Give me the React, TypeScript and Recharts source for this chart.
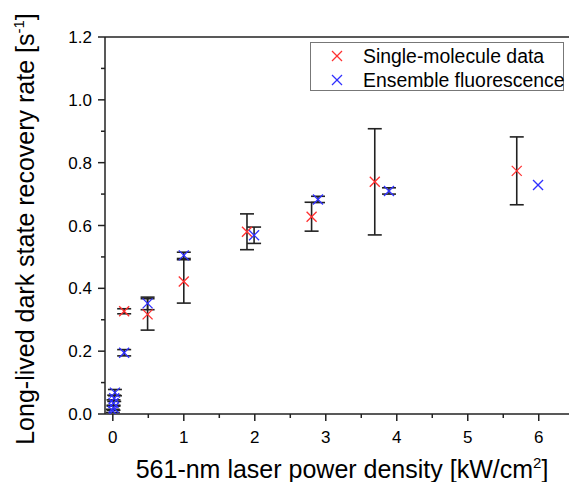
import {
  ScatterChart,
  Scatter,
  XAxis,
  YAxis,
  ErrorBar,
  ReferenceLine,
  Legend,
} from "recharts";

// single-molecule data (red)
const smX = [0.16, 0.49, 1.0, 1.89, 2.8, 3.69, 5.69];
const smY = [0.327, 0.317, 0.422, 0.58, 0.628, 0.739, 0.774];
const smErr = [0.008, 0.05, 0.069, 0.057, 0.046, 0.169, 0.108];

// ensemble fluorescence (blue)
const efX = [0.0, 0.01, 0.01, 0.02, 0.03, 0.16, 0.49, 1.0, 1.99, 2.89, 3.89, 5.99];
const efY = [0.01, 0.02, 0.035, 0.05, 0.068, 0.195, 0.352, 0.505, 0.569, 0.683, 0.71, 0.729];
const efErr = [0.005, 0.008, 0.01, 0.01, 0.01, 0.01, 0.02, 0.01, 0.026, 0.01, 0.01, 0];

const xTicks = [0, 0.5, 1, 1.5, 2, 2.5, 3, 3.5, 4, 4.5, 5, 5.5, 6];
const yTicks = [0, 0.1, 0.2, 0.3, 0.4, 0.5, 0.6, 0.7, 0.8, 0.9, 1.0, 1.1, 1.2];

const smData = smX.map((x, i) => ({ x, y: smY[i], err: smErr[i] }));
const efData = efX.map((x, i) => ({ x, y: efY[i], err: efErr[i] }));

const RED = "#ff3030";
const BLUE = "#3030ff";
const FONT = "'Liberation Sans', Arial, sans-serif";

const cross = (color: string) => (props: any) => {
  const { cx, cy } = props;
  const s = 5;
  return (
    <g stroke={color} strokeWidth={1.3}>
      <line x1={cx - s} y1={cy - s} x2={cx + s} y2={cy + s} />
      <line x1={cx - s} y1={cy + s} x2={cx + s} y2={cy - s} />
    </g>
  );
};

const XTick = (props: any) => {
  const { x, y, payload } = props;
  const major = Number.isInteger(payload.value);
  return (
    <g>
      <line x1={x} y1={y} x2={x} y2={y + (major ? 7 : 4)} stroke="#222" strokeWidth={1.5} />
      {major && (
        <text x={x} y={y + 29} textAnchor="middle" fontSize={17} fontFamily={FONT} fill="#000">
          {payload.value}
        </text>
      )}
    </g>
  );
};

const YTick = (props: any) => {
  const { x, y, payload } = props;
  const major = Math.round(payload.value * 10) % 2 === 0;
  return (
    <g>
      <line x1={x - (major ? 7 : 4)} y1={y} x2={x} y2={y} stroke="#222" strokeWidth={1.5} />
      {major && (
        <text x={x - 13} y={y + 6} textAnchor="end" fontSize={17} fontFamily={FONT} fill="#000">
          {payload.value.toFixed(1)}
        </text>
      )}
    </g>
  );
};

const LegendBox = () => (
  <div
    style={{
      border: "1px solid #777",
      width: 254,
      height: 49,
      paddingTop: 1,
      background: "#fff",
      fontFamily: FONT,
      fontSize: 19.4,
      color: "#000",
      boxSizing: "border-box",
    }}
  >
    {[
      { c: RED, t: "Single-molecule data" },
      { c: BLUE, t: "Ensemble fluorescence" },
    ].map((it) => (
      <div
        key={it.t}
        style={{ display: "flex", alignItems: "center", height: 24, whiteSpace: "nowrap", lineHeight: "24px" }}
      >
        <svg width={52} height={24} style={{ flex: "none" }}>
          <g stroke={it.c} strokeWidth={1.3}>
            <line x1={21} y1={7} x2={31} y2={17} />
            <line x1={21} y1={17} x2={31} y2={7} />
          </g>
        </svg>
        <span>{it.t}</span>
      </div>
    ))}
  </div>
);

export default function App() {
  return (
    <div style={{ position: "absolute", left: 0, top: 0, background: "#fff" }}>
      <ScatterChart width={569} height={482} margin={{ top: 37, right: 0, bottom: 0, left: 0 }}>
        <XAxis
          type="number"
          dataKey="x"
          domain={[-0.11, 6.426]}
          ticks={xTicks}
          interval={0}
          height={68}
          tickSize={0}
          tickMargin={0}
          tickLine={false}
          tick={<XTick />}
          axisLine={{ stroke: "#222", strokeWidth: 1.5 }}
          allowDataOverflow
          label={{
            content: () => (
              <text x={342} y={478} textAnchor="middle" fontSize={25} fontFamily={FONT} fill="#000">
                561-nm laser power density [kW/cm
                <tspan dy={-10} fontSize={15}>2</tspan>
                <tspan dy={10}>]</tspan>
              </text>
            ),
          }}
        />
        <YAxis
          type="number"
          dataKey="y"
          domain={[0, 1.2]}
          ticks={yTicks}
          interval={0}
          width={105}
          tickSize={0}
          tickMargin={0}
          tickLine={false}
          tick={<YTick />}
          axisLine={{ stroke: "#222", strokeWidth: 1.5 }}
          allowDataOverflow
          label={{
            content: () => (
              <text
                x={34}
                y={229}
                textAnchor="middle"
                fontSize={25}
                fontFamily={FONT}
                fill="#000"
                transform="rotate(-90, 34, 229)"
              >
                Long-lived dark state recovery rate [s
                <tspan dy={-10} fontSize={15}>-1</tspan>
                <tspan dy={10}>]</tspan>
              </text>
            ),
          }}
        />
        <ReferenceLine y={1.2} stroke="#222" strokeWidth={1.5} />
        <Legend
          layout="vertical"
          align="center"
          verticalAlign="middle"
          content={<LegendBox />}
          wrapperStyle={{ position: "absolute", left: 310, top: 42, width: 256, height: 51 }}
        />
        <Scatter data={smData} shape={cross(RED)} isAnimationActive={false} legendType="none">
          <ErrorBar dataKey="err" direction="y" width={7} stroke="#222" strokeWidth={1.6} />
        </Scatter>
        <Scatter data={efData} shape={cross(BLUE)} isAnimationActive={false} legendType="none">
          <ErrorBar dataKey="err" direction="y" width={7} stroke="#222" strokeWidth={1.6} />
        </Scatter>
      </ScatterChart>
    </div>
  );
}
